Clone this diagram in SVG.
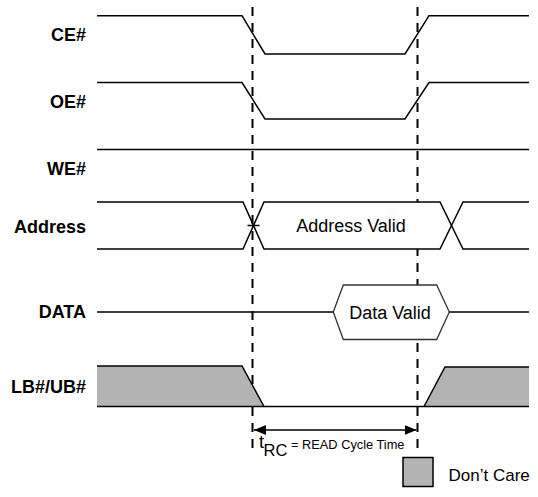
<svg xmlns="http://www.w3.org/2000/svg" width="538" height="497" viewBox="0 0 538 497">
<style>
.lbl{font-family:"Liberation Sans",Arial,sans-serif;font-weight:bold;font-size:18px;fill:#000;text-anchor:end}
.txt{font-family:"Liberation Sans",Arial,sans-serif;font-size:18px;fill:#000}
.sig{fill:none;stroke:#000;stroke-width:1.5;stroke-linejoin:miter}
.box{fill:#fff;stroke:#333;stroke-width:1.3}
.mask{fill:#fff;stroke:none}
.dc{fill:#b3b3b3;stroke:none}
.dash{stroke:#000;stroke-width:2;stroke-dasharray:9 7;fill:none}
</style>
<defs>
<marker id="ah" markerUnits="userSpaceOnUse" markerWidth="12" markerHeight="10" refX="12" refY="5" orient="auto-start-reverse" viewBox="0 0 12 10">
<path d="M0,0 L12,5 L0,10 Z" fill="#000"/>
</marker>
</defs>
<rect width="538" height="497" fill="#fff"/>

<g id="connectors">
<line class="dash" x1="252.5" y1="7" x2="252.5" y2="448"/>
<line class="dash" x1="417.5" y1="7" x2="417.5" y2="448"/>
<line x1="254" y1="430" x2="416.5" y2="430" stroke="#000" stroke-width="1.5" marker-start="url(#ah)" marker-end="url(#ah)"/>
</g>

<g id="sig-ce">
<text class="lbl" x="86" y="40.5">CE#</text>
<polyline class="sig" points="97,15.7 242,15.7 265,54 405,54 429,15.7 529,15.7"/>
</g>
<g id="sig-oe">
<text class="lbl" x="86" y="107.5">OE#</text>
<polyline class="sig" points="97,82.5 242,82.5 265,119 405,119 429,82.5 529,82.5"/>
</g>
<g id="sig-we">
<text class="lbl" x="86" y="175">WE#</text>
<line class="sig" x1="97" y1="149.5" x2="529" y2="149.5"/>
</g>
<g id="sig-address">
<text class="lbl" x="86" y="232.5">Address</text>
<polygon class="mask" points="254,225.5 264,202 440,202 451.5,225.5 440,249 264,249"/>
<polyline class="sig" points="97,202 243,202 264,249 440,249 463,202 529,202"/>
<polyline class="sig" points="97,249 243,249 264,202 440,202 463,249 529,249"/>
<line class="sig" x1="247.5" y1="225.5" x2="259.5" y2="225.5"/>
<text class="txt" x="351" y="232" text-anchor="middle">Address Valid</text>
</g>
<g id="sig-data">
<text class="lbl" x="86" y="318">DATA</text>
<line class="sig" x1="97" y1="312" x2="333.3" y2="312"/>
<polygon class="box" points="333.3,312 343.3,285 436.7,285 449.3,312 436.7,339.5 343.3,339.5"/>
<line class="sig" x1="449.3" y1="312" x2="529" y2="312"/>
<text class="txt" x="390" y="318.5" text-anchor="middle">Data Valid</text>
</g>
<g id="sig-lbub">
<text class="lbl" x="86" y="393">LB#/UB#</text>
<polygon class="dc" points="97,366 242,366 264,406.5 97,406.5"/>
<polygon class="dc" points="424,406.5 445,367 529,367 529,406.5"/>
<polyline class="sig" points="97,366 242,366 264,406.5"/>
<polyline class="sig" points="424,406.5 445,367 529,367"/>
<line class="sig" x1="97" y1="406.5" x2="529" y2="406.5"/>
</g>

<g id="trc-label">
<text font-family="'Liberation Sans',Arial,sans-serif" fill="#000"><tspan x="259" y="448" font-size="18">t</tspan><tspan x="263.5" y="455.5" font-size="16.5">RC</tspan><tspan x="291" y="448.5" font-size="12.8">= READ Cycle Time</tspan></text>
</g>

<g id="legend">
<rect x="403" y="457.5" width="30" height="29" fill="#b3b3b3" stroke="#000" stroke-width="1.5"/>
<text class="txt" x="448.5" y="480.5" style="font-size:17px">Don’t Care</text>
</g>
</svg>
